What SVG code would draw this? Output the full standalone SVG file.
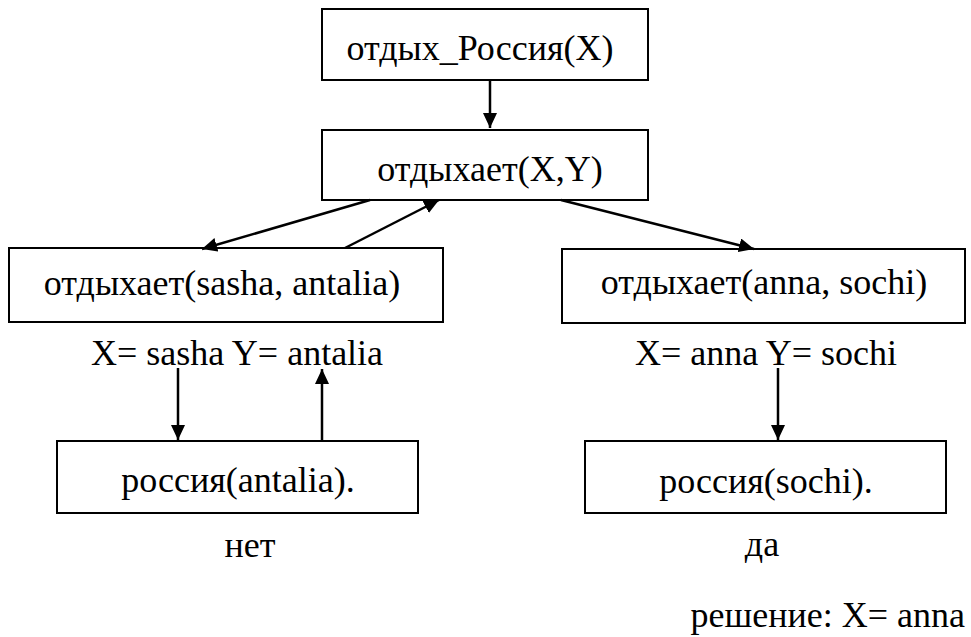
<svg xmlns="http://www.w3.org/2000/svg" width="971" height="637" viewBox="0 0 971 637">
<style>
.box{fill:#fff;stroke:#000;stroke-width:2}
text{font-family:'Liberation Serif','DejaVu Serif',serif;font-size:36px;fill:#000}
.m{text-anchor:middle}
.c{stroke:#000;stroke-width:2.5;fill:none;marker-end:url(#ah)}
</style>
<defs>
<marker id="ah" markerUnits="userSpaceOnUse" markerWidth="16" markerHeight="14" refX="15" refY="7" orient="auto">
<path d="M0,0 L15,7 L0,14 Z" fill="#000"/>
</marker>
</defs>
<rect width="971" height="637" fill="#fff"/>
<g font-family="Liberation Serif, serif">
<g id="n1"><rect class="box" x="322" y="9" width="326" height="71"/><text class="m" x="480" y="60">отдых_Россия(X)</text></g>
<g id="n2"><rect class="box" x="322" y="130" width="326" height="70"/><text class="m" x="490" y="181">отдыхает(X,Y)</text></g>
<g id="n3"><rect class="box" x="9" y="248" width="434" height="74"/><text class="m" x="222" y="295">отдыхает(sasha, antalia)</text></g>
<g id="n4"><rect class="box" x="562" y="249" width="403" height="74"/><text class="m" x="764" y="294">отдыхает(anna, sochi)</text></g>
<g id="n5"><rect class="box" x="57" y="441" width="361" height="72"/><text class="m" x="238" y="492">россия(antalia).</text></g>
<g id="n6"><rect class="box" x="585" y="441" width="361" height="72"/><text class="m" x="766" y="493">россия(sochi).</text></g>
<g id="labels">
<text class="m" x="237" y="365">X= sasha Y= antalia</text>
<text class="m" x="766" y="365">X= anna Y= sochi</text>
<text class="m" x="250" y="557">нет</text>
<text class="m" x="762" y="556">да</text>
<text x="965" y="627" text-anchor="end">решение: X= anna</text>
</g>
</g>
<g id="connectors">
<line class="c" x1="490" y1="81" x2="490" y2="128"/>
<line class="c" x1="370" y1="200" x2="202" y2="249"/>
<line class="c" x1="345" y1="248" x2="439" y2="200"/>
<line class="c" x1="561" y1="200" x2="754" y2="249"/>
<line class="c" x1="178" y1="368" x2="178" y2="440"/>
<line class="c" x1="322" y1="441" x2="322" y2="369"/>
<line class="c" x1="778" y1="368" x2="778" y2="440"/>
</g>
</svg>
